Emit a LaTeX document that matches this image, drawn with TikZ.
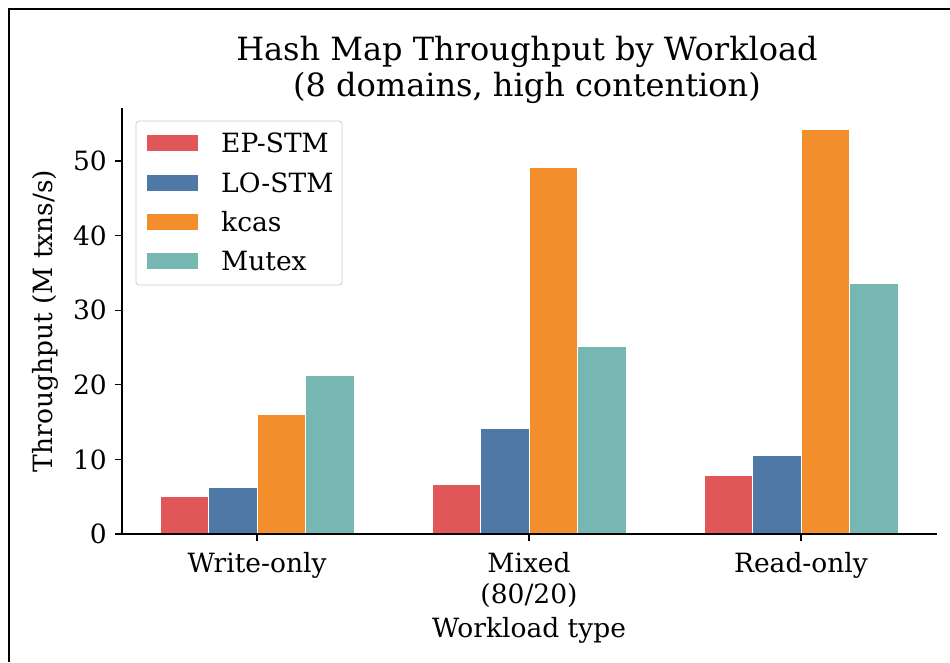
\documentclass[tikz,border=0pt]{standalone}
\usepackage{fontspec}
\setmainfont{DejaVu Serif}
\definecolor{cep}{HTML}{E15759}
\definecolor{clo}{HTML}{4E79A7}
\definecolor{ckc}{HTML}{F28E2B}
\definecolor{cmu}{HTML}{76B7B2}
\definecolor{legframe}{HTML}{CCCCCC}
\tikzset{
  barbox/.style={draw=white, line width=0.8pt},
  ticklbl/.style={font=\fontsize{26.5}{31}\selectfont, inner sep=0pt},
  titlelbl/.style={font=\fontsize{32}{36}\selectfont, inner sep=0pt, anchor=base},
  axisline/.style={line width=1.3pt, black},
}
\begin{document}
\begin{tikzpicture}[x=1pt,y=-1pt]
\useasboundingbox (0,0) rectangle (950,662);
% frame
\draw[line width=1.5pt] (9,662) -- (9,9) -- (950,9);
% title
\node[titlelbl] (title1) at (527,60) {Hash Map Throughput by Workload};
\node[titlelbl] (title2) at (527,96) {(8 domains, high contention)};
% bars
\def\ys{7.46}
\foreach \gx/\a/\b/\c/\d [count=\g] in {257/5.0/6.2/16.1/21.2, 529/6.7/14.2/49.2/25.1, 801/7.8/10.5/54.2/33.6}{
  \fill[cep, barbox] (\gx-97,534) rectangle (\gx-48.5,534-\a*\ys);
  \fill[clo, barbox] (\gx-48.5,534) rectangle (\gx,534-\b*\ys);
  \fill[ckc, barbox] (\gx,534) rectangle (\gx+48.5,534-\c*\ys);
  \fill[cmu, barbox] (\gx+48.5,534) rectangle (\gx+97,534-\d*\ys);
  \draw[axisline] (\gx,534) -- (\gx,541);
}
% axes
\draw[axisline] (122,108) -- (122,534) -- (937,534);
\foreach \v in {0,10,20,30,40,50}{
  \draw[axisline] (115,534-\v*\ys) -- (122,534-\v*\ys);
  \node[ticklbl, anchor=east] (yt\v) at (107,534-\v*\ys) {\v};
}
\node[ticklbl, anchor=base] (x1) at (257,572) {Write-only};
\node[ticklbl, anchor=base] (x2) at (529,572) {Mixed};
\node[ticklbl, anchor=base] (x2b) at (529,603) {(80/20)};
\node[ticklbl, anchor=base] (x3) at (801,572) {Read-only};
\node[ticklbl, anchor=base] (xl) at (529,637) {Workload type};
\node[ticklbl, rotate=90] (yl) at (45,321) {Throughput (M txns/s)};
% legend
\draw[legframe, line width=0.8pt, fill=white, rounded corners=3pt] (136,121) rectangle (342,285);
\foreach \c/\t/\yy in {cep/EP-STM/143, clo/LO-STM/183, ckc/kcas/222, cmu/Mutex/261}{
  \fill[\c] (147,\yy-8) rectangle (198,\yy+8);
  \node[ticklbl, anchor=base west] at (221,\yy+9) {\t};
}
\end{tikzpicture}
\end{document}
